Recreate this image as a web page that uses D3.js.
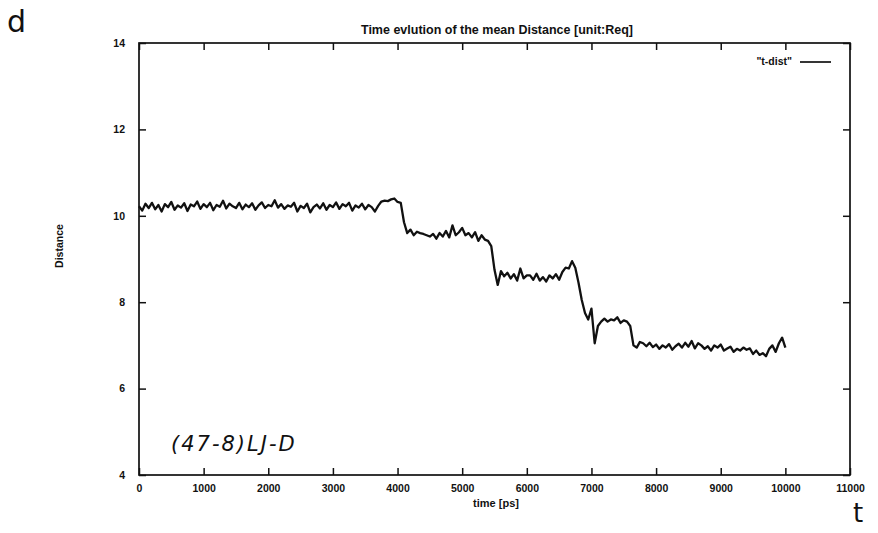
<!DOCTYPE html>
<html>
<head>
<meta charset="utf-8">
<script src="https://cdn.jsdelivr.net/npm/d3@7"></script>
<style>
  html, body { margin: 0; padding: 0; background: #fff; }
  svg { display: block; }
  .tick text { font-family: "Liberation Sans", Arial, sans-serif; font-weight: bold; font-size: 10.5px; fill: #111; }
  .lbl { font-family: "Liberation Sans", Arial, sans-serif; font-weight: bold; fill: #111; }
  .hand { font-family: "DejaVu Sans", sans-serif; fill: #111; }
</style>
</head>
<body>
<svg id="chart" width="878" height="533"></svg>
<script>
// Mean distance vs. time, sampled every 50 ps
const sampleStep = 50;
const distance = [
  // 0 - 3950 ps
  10.22, 10.12, 10.28, 10.18, 10.30, 10.15, 10.25, 10.10, 10.27, 10.20,
  10.32, 10.14, 10.24, 10.19, 10.29, 10.11, 10.26, 10.22, 10.33, 10.16,
  10.27, 10.20, 10.30, 10.13, 10.25, 10.21, 10.35, 10.17, 10.28, 10.22,
  10.18, 10.30, 10.15, 10.26, 10.20, 10.29, 10.14, 10.24, 10.31, 10.18,
  10.25, 10.22, 10.36, 10.19, 10.27, 10.16, 10.24, 10.21, 10.30, 10.10,
  10.23, 10.18, 10.28, 10.08, 10.20, 10.26, 10.17, 10.29, 10.14, 10.25,
  10.20, 10.31, 10.16, 10.27, 10.22, 10.30, 10.12, 10.24, 10.19, 10.28,
  10.15, 10.25, 10.20, 10.10, 10.23, 10.33, 10.35, 10.34, 10.38, 10.40,
  // 4000 ps
  10.32,
  // 4050 - 10000 ps
  10.30, 9.85, 9.60, 9.68, 9.55, 9.63, 9.60, 9.58, 9.55, 9.52,
  9.58, 9.47, 9.60, 9.52, 9.65, 9.50, 9.78, 9.55, 9.62, 9.72,
  9.55, 9.60, 9.50, 9.62, 9.42, 9.55, 9.45, 9.42, 9.30, 8.75,
  8.40, 8.72, 8.60, 8.68, 8.55, 8.65, 8.50, 8.78, 8.55, 8.62,
  8.62, 8.52, 8.66, 8.50, 8.58, 8.48, 8.62, 8.55, 8.65, 8.52,
  8.70, 8.80, 8.78, 8.95, 8.80, 8.45, 8.05, 7.75, 7.60, 7.85,
  7.05, 7.45, 7.55, 7.62, 7.55, 7.60, 7.58, 7.65, 7.52, 7.58,
  7.55, 7.45, 7.00, 6.95, 7.08, 7.05, 6.98, 7.06, 6.96, 7.02,
  6.92, 7.00, 6.95, 7.03, 6.90, 6.98, 7.04, 6.95, 7.06, 6.97,
  7.10, 6.93, 7.05, 7.00, 6.92, 6.98, 6.88, 7.00, 6.95, 7.02,
  6.88, 6.93, 6.97, 6.85, 6.92, 6.88, 6.95, 6.90, 6.93, 6.80,
  6.88, 6.78, 6.82, 6.75, 6.92, 7.00, 6.85, 7.05, 7.18, 6.95
];
const xTicks = [0, 1000, 2000, 3000, 4000, 5000, 6000, 7000, 8000, 9000, 10000, 11000];
const yTicks = [4, 6, 8, 10, 12, 14];

const titleText = "Time evlution of the mean Distance [unit:Req]";
const xLabel = "time [ps]";
const yLabel = "Distance";
const legendLabel = "\"t-dist\"";

const svg = d3.select("#chart");
const margin = { left: 139, right: 28, top: 43, bottom: 58 };
const W = 878, H = 533;

const x = d3.scaleLinear().domain([0, 11000]).range([margin.left, W - margin.right]);
const y = d3.scaleLinear().domain([4, 14]).range([H - margin.bottom, margin.top]);

const points = distance.map((v, i) => [i * sampleStep, v]);

// Frame
svg.append("rect")
  .attr("x", x(0)).attr("y", y(14))
  .attr("width", x(11000) - x(0)).attr("height", y(4) - y(14))
  .attr("fill", "none").attr("stroke", "#111").attr("stroke-width", 1.7);

// Axes with inward ticks (mirrored on opposite sides)
const tickLen = 7;
const gx = svg.append("g").attr("transform", `translate(0,${y(4)})`)
  .call(d3.axisBottom(x).tickValues(xTicks).tickSize(-tickLen).tickPadding(10).tickFormat(d3.format("d")));
const gxTop = svg.append("g").attr("transform", `translate(0,${y(14)})`)
  .call(d3.axisTop(x).tickValues(xTicks).tickSize(-tickLen).tickFormat(""));
const gy = svg.append("g").attr("transform", `translate(${x(0)},0)`)
  .call(d3.axisLeft(y).tickValues(yTicks).tickSize(-tickLen).tickPadding(14).tickFormat(d3.format("d")));
const gyRight = svg.append("g").attr("transform", `translate(${x(11000)},0)`)
  .call(d3.axisRight(y).tickValues(yTicks).tickSize(-tickLen).tickFormat(""));
[gx, gxTop, gy, gyRight].forEach(g => {
  g.select(".domain").remove();
  g.selectAll(".tick line").attr("stroke", "#111").attr("stroke-width", 1.5);
});

// Title and axis labels
svg.append("text").attr("class", "lbl")
  .attr("x", 497).attr("y", 34).attr("text-anchor", "middle")
  .style("font-size", "12.5px")
  .text(titleText);
svg.append("text").attr("class", "lbl")
  .attr("x", 496).attr("y", 507).attr("text-anchor", "middle")
  .style("font-size", "11px")
  .text(xLabel);
svg.append("text").attr("class", "lbl")
  .attr("transform", "translate(63,246) rotate(-90)").attr("text-anchor", "middle")
  .style("font-size", "10.5px")
  .text(yLabel);

// Legend
svg.append("text").attr("class", "lbl")
  .attr("x", 792).attr("y", 65).attr("text-anchor", "end")
  .style("font-size", "10.5px")
  .text(legendLabel);
svg.append("line")
  .attr("x1", 800).attr("x2", 831).attr("y1", 62).attr("y2", 62)
  .attr("stroke", "#111").attr("stroke-width", 1.7);

// Data line
svg.append("path")
  .datum(points)
  .attr("fill", "none").attr("stroke", "#111").attr("stroke-width", 2.3)
  .attr("stroke-linejoin", "round")
  .attr("d", d3.line().x(d => x(d[0])).y(d => y(d[1])));

// Handwritten annotations
svg.append("text").attr("class", "hand")
  .attr("x", 7).attr("y", 32).style("font-size", "30px")
  .text("d");
svg.append("text").attr("class", "hand")
  .attr("x", 853).attr("y", 522).style("font-size", "26px")
  .text("t");
svg.append("text").attr("class", "hand")
  .attr("x", 171).attr("y", 451).style("font-size", "21px").style("font-style", "italic")
  .style("letter-spacing", "2px")
  .text("(47-8)LJ-D");
</script>
</body>
</html>
